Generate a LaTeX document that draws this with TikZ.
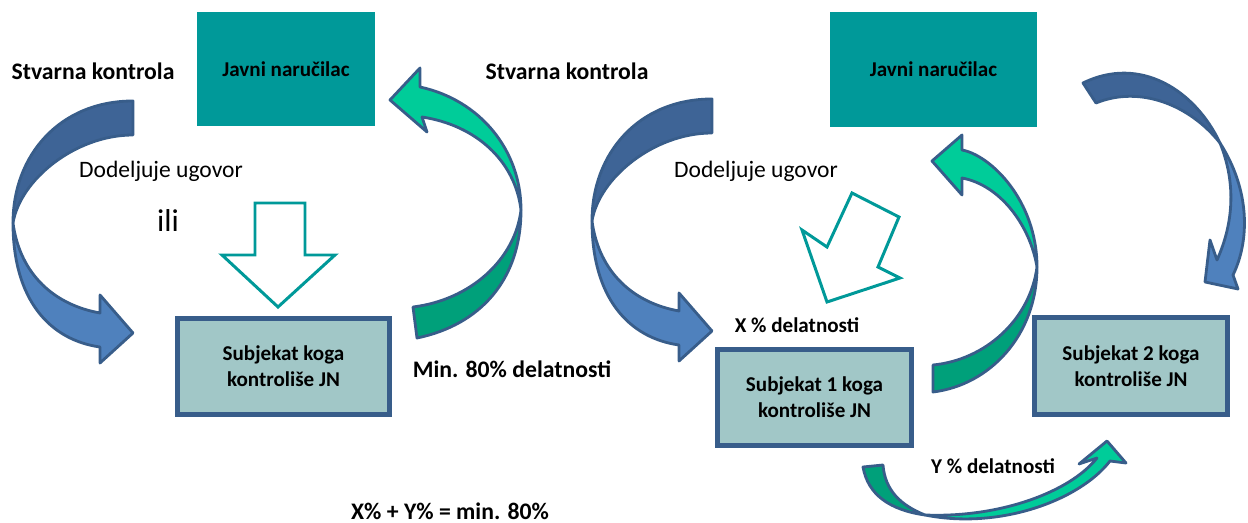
\documentclass[tikz,border=0pt]{standalone}
\usepackage{fontspec}
\setmainfont{Carlito}
\definecolor{jnteal}{RGB}{0,153,153}
\definecolor{subfill}{RGB}{161,199,199}
\definecolor{edgeblue}{RGB}{56,93,138}
\definecolor{blueup}{RGB}{62,100,150}
\definecolor{bluelow}{RGB}{79,129,189}
\definecolor{greenup}{RGB}{0,204,153}
\definecolor{greenlow}{RGB}{0,160,122}
\tikzset{
  jnbox/.style={fill=jnteal, inner sep=0pt, font=\bfseries\fontsize{12}{14}\selectfont},
  subbox/.style={fill=subfill, draw=edgeblue, line width=2.8pt, inner sep=0pt, align=center,
    minimum height=1.92cm, font=\bfseries\fontsize{12}{15}\selectfont},
  lbl/.style={font=\bfseries\fontsize{13.5}{16}\selectfont},
  small lbl/.style={font=\bfseries\fontsize{12}{14}\selectfont},
  plain lbl/.style={font=\fontsize{13.4}{16}\selectfont},
  bendarrow/.style={draw=edgeblue, line width=1.6pt, line join=round},
  hollow/.style={draw=jnteal, line width=1.7pt, fill=white, line join=miter}
}
\begin{document}
\begin{tikzpicture}[x=0.02cm, y=-0.02cm]
  \useasboundingbox (0,0) rectangle (1248,523);
  % Boxes
  \node[jnbox, minimum width=3.56cm, minimum height=2.28cm] (jn1) at (286,69) {Javni naručilac};
  \node[jnbox, minimum width=4.14cm, minimum height=2.3cm] (jn2) at (933.5,69.5) {Javni naručilac};
  \node[subbox, minimum width=4.24cm] (sub) at (283.5,366.5) {Subjekat koga\\kontroliše JN};
  \node[subbox, minimum width=3.88cm] (sub1) at (814.5,397.5) {Subjekat 1 koga\\kontroliše JN};
  \node[subbox, minimum width=3.86cm, minimum height=1.94cm] (sub2) at (1131,366) {Subjekat 2 koga\\kontroliše JN};
  % Labels
  \node[lbl] (ctrl1) at (93,71) {Stvarna kontrola};
  \node[lbl] (ctrl2) at (567,71) {Stvarna kontrola};
  \node[plain lbl] (award1) at (161,171) {Dodeljuje ugovor};
  \node[plain lbl] (award2) at (756,171) {Dodeljuje ugovor};
  \node[font=\fontsize{18}{20}\selectfont] (ili) at (168,221) {ili};
  \node[lbl] (min80) at (512,369) {Min. 80\% delatnosti};
  \node[small lbl] (xpct) at (797,325) {X \% delatnosti};
  \node[small lbl] (ypct) at (993,466) {Y \% delatnosti};
  \node[lbl] (sum) at (450,511) {X\% + Y\% = min. 80\%};
  % Blue bend, left
  \filldraw[bendarrow, fill=blueup] (133,101) .. controls (60,101) and (13,155) .. (13,223)
    .. controls (20,180) and (75,135) .. (133,135) -- cycle;
  \filldraw[bendarrow, fill=bluelow] (13,223) .. controls (13,300) and (50,340) .. (100,347)
    -- (100,363) -- (133,333) -- (100,295) -- (100,313)
    .. controls (55,305) and (20,275) .. (13,223) -- cycle;
  % Blue bend, middle
  \begin{scope}[shift={(579,-2)}]
    \filldraw[bendarrow, fill=blueup] (133,101) .. controls (60,101) and (13,155) .. (13,223)
      .. controls (20,180) and (75,135) .. (133,135) -- cycle;
    \filldraw[bendarrow, fill=bluelow] (13,223) .. controls (13,300) and (50,340) .. (100,347)
      -- (100,363) -- (133,333) -- (100,295) -- (100,313)
      .. controls (55,305) and (20,275) .. (13,223) -- cycle;
  \end{scope}
  % Blue bend, right
  \filldraw[bendarrow, fill=blueup] (1083,83) .. controls (1140,55) and (1195,90) .. (1220,143)
    .. controls (1190,105) and (1140,85) .. (1096,103) -- cycle;
  \filldraw[bendarrow, fill=bluelow] (1220,143) .. controls (1250,190) and (1250,240) .. (1233,275)
    -- (1238,289) -- (1205,282) -- (1210,240) -- (1217,260)
    .. controls (1235,220) and (1235,180) .. (1220,143) -- cycle;
  % Green bend, left
  \filldraw[bendarrow, fill=greenup] (420,87) .. controls (480,100) and (521,150) .. (521,210)
    .. controls (515,160) and (475,125) .. (422,117)
    -- (427,132) -- (390,100) -- (420,68) -- cycle;
  \filldraw[bendarrow, fill=greenlow] (521,210) .. controls (521,280) and (480,325) .. (417,338)
    -- (413,307) .. controls (470,300) and (515,260) .. (521,210) -- cycle;
  % Green bend, right
  \filldraw[bendarrow, fill=greenup] (962,150) .. controls (990,155) and (1037,200) .. (1037,267)
    .. controls (1030,225) and (1000,185) .. (962,178)
    -- (962,195) -- (932,161) -- (962,135) -- cycle;
  \filldraw[bendarrow, fill=greenlow] (1037,267) .. controls (1037,335) and (990,385) .. (933,392)
    -- (933,365) .. controls (985,360) and (1030,320) .. (1037,267) -- cycle;
  % Green bend, bottom
  \filldraw[bendarrow, fill=greenlow] (863,467) .. controls (868,495) and (890,510) .. (925,515)
    .. controls (900,505) and (885,490) .. (883,465) -- cycle;
  \filldraw[bendarrow, fill=greenup] (925,515) .. controls (1000,530) and (1080,500) .. (1110,461)
    -- (1126,463) -- (1107,441) -- (1079,464) -- (1097,458)
    .. controls (1070,492) and (1000,518) .. (925,515) -- cycle;
  % Hollow arrows
  \filldraw[hollow] (255,203) -- (305,203) -- (305,255) -- (335,255) -- (278,307)
    -- (222,255) -- (255,255) -- cycle;
  \filldraw[hollow] (852,193) -- (899,217) -- (878,267) -- (900,278) -- (827,302)
    -- (802,230) -- (827,247) -- cycle;
\end{tikzpicture}
\end{document}
